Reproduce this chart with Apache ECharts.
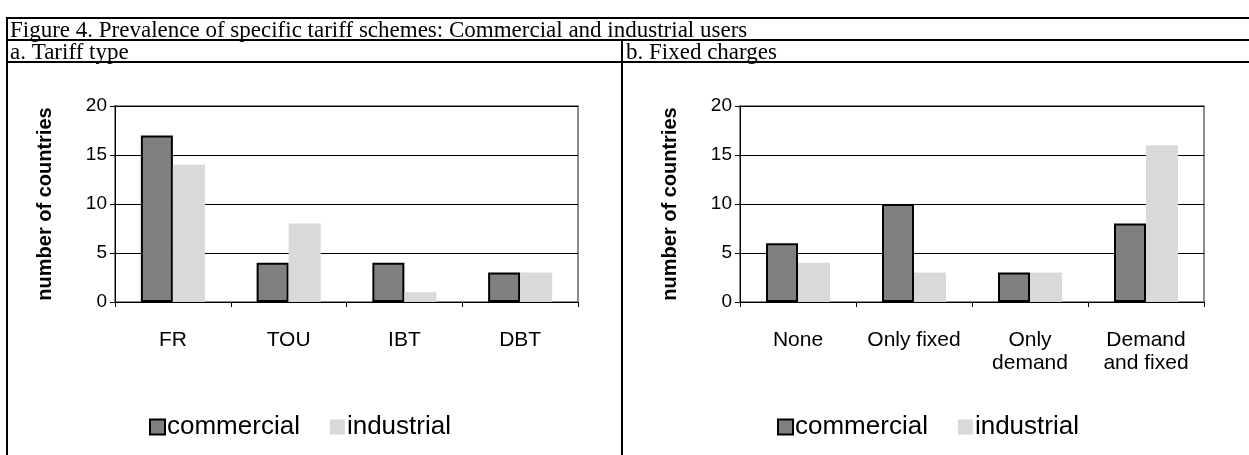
<!DOCTYPE html>
<html lang="en">
<head>
    <meta charset="utf-8" />
    <title>Figure 4</title>
    <script src="https://cdn.jsdelivr.net/npm/echarts@6/dist/echarts.min.js"></script>
    <style>
        html, body { margin: 0; padding: 0; background: #fff; }
    </style>
</head>
<body>
<div id="main" style="width: 1249px;height:455px;"></div>
<script type="text/javascript">
    // data
    var tariffTypes = ['FR', 'TOU', 'IBT', 'DBT'];
    var tariffCommercial = [17, 4, 4, 3];
    var tariffIndustrial = [14, 8, 1, 3];

    var fixedTypes = ['None', 'Only fixed', 'Only\ndemand', 'Demand\nand fixed'];
    var fixedCommercial = [6, 10, 3, 8];
    var fixedIndustrial = [4, 3, 3, 16];

    var yTicks = [0, 5, 10, 15, 20];

    var sans = 'Liberation Sans, Arial, sans-serif';
    var serif = 'Liberation Serif, Times New Roman, serif';

    var myChart = echarts.init(document.getElementById('main'), null, {renderer: 'canvas'});

    function yAxisFor(idx) {
      return {
        type: 'value',
        gridIndex: idx,
        min: yTicks[0],
        max: yTicks[yTicks.length - 1],
        interval: yTicks[1] - yTicks[0],
        name: 'number of countries',
        nameLocation: 'middle',
        nameGap: 60,
        nameTextStyle: {fontFamily: sans, fontSize: 20, fontWeight: 'bold', color: '#000'},
        axisLine: {show: true, lineStyle: {color: '#000', width: 1}},
        axisTick: {show: true, length: 5, lineStyle: {color: '#000'}},
        axisLabel: {fontFamily: sans, fontSize: 19, color: '#000', margin: 8},
        splitLine: {show: true, lineStyle: {color: '#000', width: 1}}
      };
    }

    function xAxisFor(idx, cats) {
      return {
        type: 'category',
        gridIndex: idx,
        data: cats,
        axisLine: {show: true, lineStyle: {color: '#000', width: 1}},
        axisTick: {show: true, length: 5, alignWithLabel: false, lineStyle: {color: '#000'}},
        axisLabel: {fontFamily: sans, fontSize: 21, color: '#000', margin: 27, lineHeight: 23, interval: 0}
      };
    }

    var commercialStyle = {color: '#808080', borderColor: '#000', borderWidth: 2};
    var industrialStyle = {color: '#d9d9d9'};

    function legendAt(x) {
      return {
        data: [{name: 'commercial', itemStyle: commercialStyle}, {name: 'industrial'}],
        left: x, top: 409,
        icon: 'rect', itemWidth: 15, itemHeight: 15, itemGap: 30,
        textStyle: {fontFamily: sans, fontSize: 26, color: '#000', padding: [0, 0, 0, -3]}
      };
    }

    var option = {
      animation: false,
      textStyle: {fontFamily: sans},
      grid: [
        {left: 115, top: 106, width: 463, height: 196, show: true, borderColor: '#8c8c8c', borderWidth: 2},
        {left: 740, top: 106, width: 464, height: 196, show: true, borderColor: '#8c8c8c', borderWidth: 2}
      ],
      xAxis: [xAxisFor(0, tariffTypes), xAxisFor(1, fixedTypes)],
      yAxis: [yAxisFor(0), yAxisFor(1)],
      legend: [legendAt(144), legendAt(772)],
      series: [
        {name: 'commercial', type: 'bar', xAxisIndex: 0, yAxisIndex: 0, data: tariffCommercial,
         barWidth: 32, barGap: '0%', itemStyle: commercialStyle},
        {name: 'industrial', type: 'bar', xAxisIndex: 0, yAxisIndex: 0, data: tariffIndustrial,
         barWidth: 32, barGap: '0%', itemStyle: industrialStyle},
        {name: 'commercial', type: 'bar', xAxisIndex: 1, yAxisIndex: 1, data: fixedCommercial,
         barWidth: 32, barGap: '0%', itemStyle: commercialStyle},
        {name: 'industrial', type: 'bar', xAxisIndex: 1, yAxisIndex: 1, data: fixedIndustrial,
         barWidth: 32, barGap: '0%', itemStyle: industrialStyle}
      ],
      // table frame and captions around the two panels
      graphic: [
        {type: 'line', shape: {x1: 6, y1: 18, x2: 1249, y2: 18}, style: {stroke: '#000', lineWidth: 2}},
        {type: 'line', shape: {x1: 6, y1: 40, x2: 1249, y2: 40}, style: {stroke: '#000', lineWidth: 2}},
        {type: 'line', shape: {x1: 6, y1: 62, x2: 1249, y2: 62}, style: {stroke: '#000', lineWidth: 2}},
        {type: 'line', shape: {x1: 7, y1: 17, x2: 7, y2: 455}, style: {stroke: '#000', lineWidth: 2}},
        {type: 'line', shape: {x1: 622, y1: 40, x2: 622, y2: 455}, style: {stroke: '#000', lineWidth: 2}},
        {type: 'text', x: 10, y: 31, style: {
          text: 'Figure 4. Prevalence of specific tariff schemes: Commercial and industrial users',
          font: '23px ' + serif, fill: '#000', verticalAlign: 'middle'}},
        {type: 'text', x: 10, y: 53, style: {text: 'a. Tariff type', font: '23px ' + serif, fill: '#000', verticalAlign: 'middle'}},
        {type: 'text', x: 626, y: 53, style: {text: 'b. Fixed charges', font: '23px ' + serif, fill: '#000', verticalAlign: 'middle'}}
      ]
    };
    myChart.setOption(option);
</script>
</body>
</html>
